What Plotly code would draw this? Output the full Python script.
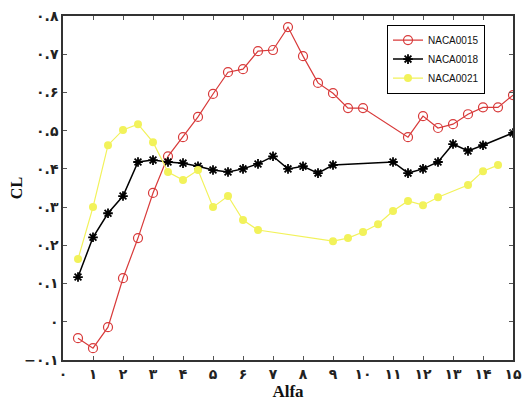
import plotly.graph_objects as go

FA = "۰۱۲۳۴۵۶۷۸۹"
def fa(s):
    return "".join(FA[int(c)] if c.isdigit() else c for c in s)

# NACA0015
x15 = [0.5, 1, 1.5, 2, 2.5, 3, 3.5, 4, 4.5, 5, 5.5, 6, 6.5, 7, 7.5, 8, 8.5, 9, 9.5, 10,
       11.5, 12, 12.5, 13, 13.5, 14, 14.5, 15]
y15 = [-0.043, -0.069, -0.014, 0.114, 0.219, 0.337, 0.433, 0.483, 0.536, 0.596, 0.653, 0.661,
       0.708, 0.711, 0.771, 0.695, 0.625, 0.598, 0.559, 0.559,
       0.483, 0.538, 0.507, 0.517, 0.543, 0.561, 0.561, 0.593]
# NACA0018
x18 = [0.5, 1, 1.5, 2, 2.5, 3, 3.5, 4, 4.5, 5, 5.5, 6, 6.5, 7, 7.5, 8, 8.5, 9,
       11, 11.5, 12, 12.5, 13, 13.5, 14, 15]
y18 = [0.117, 0.221, 0.284, 0.329, 0.418, 0.423, 0.418, 0.415, 0.407, 0.397, 0.392, 0.400,
       0.413, 0.433, 0.400, 0.407, 0.389, 0.410,
       0.418, 0.389, 0.400, 0.418, 0.465, 0.447, 0.462, 0.494]
# NACA0021
x21 = [0.5, 1, 1.5, 2, 2.5, 3, 3.5, 4, 4.5, 5, 5.5, 6, 6.5,
       9, 9.5, 10, 10.5, 11, 11.5, 12, 12.5, 13.5, 14, 14.5]
y21 = [0.164, 0.300, 0.462, 0.502, 0.517, 0.470, 0.392, 0.371, 0.397, 0.300, 0.329, 0.266, 0.240,
       0.211, 0.219, 0.235, 0.255, 0.290, 0.316, 0.305, 0.326, 0.358, 0.394, 0.410]

xticks = list(range(0, 16))
xticklabels = [fa(str(v)) for v in xticks]
yticks = [-0.1, 0, 0.1, 0.2, 0.3, 0.4, 0.5, 0.6, 0.7, 0.8]
yticklabels = ["−" + fa("0.1"), fa("0")] + [fa("0.%d" % i) for i in range(1, 9)]

fig = go.Figure()
fig.add_trace(go.Scatter(x=x15, y=y15, name="NACA0015", mode="lines+markers",
                         line=dict(color="#d83a3a", width=1.2),
                         marker=dict(symbol="circle-open", size=9, color="#d83a3a", line=dict(width=1.2))))
fig.add_trace(go.Scatter(x=x18, y=y18, name="NACA0018", mode="lines+markers",
                         line=dict(color="black", width=1.5),
                         marker=dict(symbol="asterisk-open", size=8, color="black", line=dict(width=1.8))))
fig.add_trace(go.Scatter(x=x21, y=y21, name="NACA0021", mode="lines+markers",
                         line=dict(color="#f2f25a", width=1.2),
                         marker=dict(symbol="circle", size=8, color="#f2f25a")))

axis_common = dict(showgrid=False, zeroline=False, showline=True, linecolor="#333", linewidth=1.5,
                   mirror="ticks", ticks="inside", ticklen=4, tickcolor="#555", automargin=False,
                   ticklabeloverflow="allow",
                   tickfont=dict(family="DejaVu Sans", size=14, color="#222", weight="bold"))
fig.update_layout(
    width=522, height=395,
    margin=dict(l=55, r=17, t=8, b=43),
    paper_bgcolor="white", plot_bgcolor="white",
    xaxis=dict(range=[0, 15], tickvals=xticks, ticktext=xticklabels,
               title=dict(text="<b>Alfa</b>", font=dict(family="Liberation Serif", size=17, color="#111"), standoff=0),
               **axis_common),
    yaxis=dict(range=[-0.1, 0.8], tickvals=yticks, ticktext=yticklabels,
               title=dict(text="<b>CL</b>", font=dict(family="Liberation Serif", size=16, color="#111"), standoff=0),
               **axis_common),
    legend=dict(x=0.72, y=0.975, xanchor="left", yanchor="top", bgcolor="white",
                bordercolor="black", borderwidth=1, font=dict(family="Liberation Sans", size=10, color="#111"),
                itemwidth=30, tracegroupgap=0),
    showlegend=True,
)
fig.write_html("out.html")
